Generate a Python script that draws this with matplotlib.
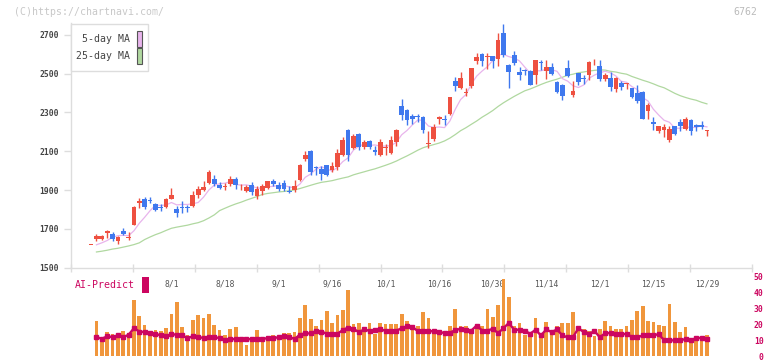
import matplotlib
matplotlib.use('Agg')
import matplotlib.pyplot as plt
import numpy as np
import pandas as pd
from matplotlib.patches import Rectangle

W, H = 772, 361

opens = [1617,1650,1649,1677,1676,1635,1687,1651,1721,1832,
         1855,1851,1826,1814,1813,1856,1802,1814,1814,1818,
         1876,1902,1936,1958,1927,1914,1931,1957,1908,1893,
         1924,1867,1893,1913,1947,1927,1936,1896,1902,1953,
         2062,2102,2016,2010,2030,2003,2019,2082,2210,2116,
         2190,2123,2150,2107,2079,2117,2090,2146,2334,2314,
         2283,2281,2276,2135,2162,2266,2266,2293,2462,2428,
         2402,2438,2562,2600,2583,2590,2574,2707,2545,2597,
         2506,2518,2511,2491,2557,2511,2534,2455,2440,2528,
         2388,2503,2475,2491,2562,2537,2472,2477,2422,2451,
         2446,2425,2400,2403,2306,2252,2202,2211,2160,2228,
         2248,2216,2263,2236,2235,2204]
highs = [1617,1672,1670,1695,1684,1663,1707,1684,1819,1861,
         1866,1864,1833,1830,1860,1912,1818,1841,1825,1893,
         1919,1948,2001,1979,1942,1936,1970,1967,1931,1924,
         1940,1919,1931,1948,1956,1941,1953,1919,1953,2036,
         2102,2104,2022,2022,2031,2043,2112,2171,2214,2188,
         2193,2159,2159,2128,2165,2139,2176,2212,2370,2317,
         2291,2291,2283,2205,2240,2279,2288,2379,2484,2507,
         2428,2531,2605,2608,2605,2590,2707,2755,2548,2614,
         2534,2523,2520,2572,2572,2572,2554,2460,2445,2572,
         2463,2503,2491,2566,2574,2571,2503,2510,2480,2460,
         2451,2426,2441,2408,2348,2274,2231,2242,2228,2231,
         2266,2275,2265,2240,2254,2210]
lows = [1617,1637,1644,1652,1640,1624,1670,1641,1719,1810,
        1804,1834,1790,1792,1808,1852,1762,1782,1786,1813,
        1858,1893,1931,1920,1907,1898,1919,1907,1902,1888,
        1876,1855,1876,1905,1919,1893,1893,1884,1888,1948,
        2048,1979,1976,1953,1972,1991,2003,2074,2048,2111,
        2108,2109,2112,2082,2074,2082,2086,2128,2262,2236,
        2241,2248,2193,2116,2155,2238,2234,2284,2412,2421,
        2384,2428,2550,2538,2524,2531,2541,2584,2428,2545,
        2468,2491,2440,2446,2520,2471,2491,2400,2365,2482,
        2378,2443,2446,2465,2545,2464,2463,2408,2403,2417,
        2420,2374,2348,2265,2267,2211,2194,2173,2146,2185,
        2202,2211,2181,2202,2216,2177]
closes = [1617,1664,1665,1688,1650,1657,1674,1655,1815,1843,
          1811,1842,1797,1810,1855,1875,1780,1810,1808,1875,
          1906,1918,1995,1932,1911,1921,1957,1925,1912,1918,
          1889,1906,1922,1947,1932,1907,1907,1888,1922,2030,
          2082,1991,2012,1985,1976,2022,2090,2159,2082,2176,
          2121,2146,2124,2094,2147,2122,2156,2210,2288,2259,
          2266,2278,2207,2138,2224,2276,2262,2378,2438,2476,
          2406,2528,2585,2567,2590,2567,2673,2596,2510,2554,
          2491,2513,2443,2571,2552,2532,2499,2404,2383,2486,
          2412,2455,2470,2557,2566,2474,2491,2429,2477,2429,
          2449,2378,2357,2268,2340,2238,2228,2223,2216,2190,
          2232,2268,2202,2224,2226,2207]

# volume (first session has no bar)
volume = [np.nan,
          22.2,10.5,14.9,14.1,13.6,16.1,14.5,35.3,25.3,19.7,
          15.5,16.6,16.1,17.8,26.6,34.1,18.4,13.6,22.8,25.9,
          24.3,26.8,19.5,16.6,13.4,17.2,18.4,10.3,7.2,10.9,
          16.6,12.0,12.4,13.4,12.8,14.7,14.7,15.5,24.1,32.2,
          23.4,19.1,22.8,28.4,21.1,25.9,29.1,41.6,20.3,21.1,
          17.8,21.1,14.1,21.1,20.5,20.3,
          20.3,26.6,22.4,18.6,19.3,28.0,24.0,16.1,16.6,15.1,
          19.3,29.7,19.3,19.3,16.6,19.3,19.3,29.7,24.9,32.2,
          49.0,37.4,19.3,21.1,13.6,13.0,24.0,12.2,21.8,16.6,
          19.3,21.1,21.1,28.0,18.6,17.2,16.1,12.4,17.2,22.4,
          19.3,17.2,17.2,19.3,22.8,28.6,31.5,22.4,21.4,19.9,
          19.3,33.0,21.4,14.9,18.4,10.5,10.5,9.7,13.0]

ai_predict = [np.nan,
              12.0,10.9,12.4,12.0,13.0,12.0,13.4,17.6,15.5,15.1,
              14.7,14.1,13.0,12.6,13.9,13.4,13.0,11.4,12.4,12.0,
              11.4,11.8,11.8,11.4,10.3,10.7,10.7,10.7,10.7,10.7,
              10.7,10.7,11.4,11.4,11.8,12.6,12.2,10.7,13.6,14.3,
              14.3,15.9,15.5,14.1,14.1,14.1,16.4,18.0,17.2,15.1,
              16.8,15.9,16.4,17.0,15.9,15.9,
              16.1,17.5,18.9,18.5,15.7,15.7,15.7,15.7,15.3,14.5,
              14.7,16.4,17.2,16.6,16.1,19.3,16.1,16.1,17.2,14.5,
              17.6,20.9,16.6,16.6,15.9,14.1,16.6,13.0,16.8,15.1,
              16.8,13.0,11.8,12.0,17.6,15.1,13.9,15.9,11.8,14.5,
              14.5,13.9,13.9,13.9,12.0,11.8,13.0,13.4,13.0,13.9,
              9.9,9.9,9.9,10.3,10.5,9.9,11.4,11.4,10.5]

ma5_head = [np.nan, 1618, 1628, 1640]
ma25_head = [np.nan, 1581, 1585, 1590, 1596, 1600, 1606, 1612, 1619, 1628,
             1645, 1658, 1670, 1680, 1692, 1703, 1709, 1714, 1719, 1726,
             1732, 1742, 1756, 1772]

date_labels = ['8/1', '8/18', '9/1', '9/16', '10/1', '10/16', '10/30',
               '11/14', '12/1', '12/15', '12/29']
date_label_pos = [15, 25, 35, 45, 55, 65, 75, 85, 95, 105, 115]
price_ticks = [1500, 1700, 1900, 2100, 2300, 2500, 2700]
vol_ticks = [0, 10, 20, 30, 40, 50]

RED = '#EE5040'
BLUE = '#3F78EE'
ORANGE = '#F0963C'
CRIMSON = '#CC0660'
PINK = '#E8B4EC'
GREEN = '#B0D8A0'
SPINE = '#DDDDDD'
MONO = 'DejaVu Sans Mono'

n = len(closes)
x = np.arange(n)
c = pd.Series(closes, dtype=float)
ma5 = c.rolling(5).mean().to_numpy()
ma5[:len(ma5_head)] = ma5_head
ma25 = c.rolling(25).mean().to_numpy()
ma25[:len(ma25_head)] = ma25_head

fig = plt.figure(figsize=(W / 100, H / 100), dpi=100)

def fx(px):
    return px / W

def fy(py):
    return 1 - py / H

# pixel geometry
X0, X1 = 71, 752
CX0, DX = 91.1, 5.355
xlim = ((X0 - CX0) / DX, (X1 - CX0) / DX)

# ---- main price panel
ax = fig.add_axes([fx(X0), fy(267.7), fx(X1) - fx(X0), fy(23.05) - fy(267.7)])
ax.set_xlim(*xlim)
ax.set_ylim(1500, 2760)
ax.set_facecolor('none')
for s in ['top', 'right']:
    ax.spines[s].set_visible(False)
for s in ['left', 'bottom']:
    ax.spines[s].set_color(SPINE)
    ax.spines[s].set_linewidth(1.0)

ax.plot(x, ma25, color=GREEN, lw=0.9, zorder=1)
ax.plot(x, ma5, color=PINK, lw=0.9, zorder=1)

o = np.array(opens, float); cl = np.array(closes, float)
hi = np.array(highs, float); lo = np.array(lows, float)
up = cl >= o
cols = np.where(up, RED, BLUE)
ax.vlines(x, lo, hi, colors=cols, lw=1.0, zorder=2)
bottom = np.minimum(o, cl)
height = np.maximum(np.abs(cl - o), 5.0)
ax.bar(x, height, bottom=bottom, width=0.88, color=cols, lw=0, zorder=3)

ax.set_yticks(price_ticks)
ax.set_yticklabels([str(t) for t in price_ticks], fontfamily=MONO,
                   fontsize=5.8, color='#444444', fontweight='bold')
ax.tick_params(axis='y', length=5, width=1, color=SPINE, pad=3.5)
ax.set_xticks(np.linspace(xlim[0], xlim[1], 12), minor=True)
ax.tick_params(axis='x', which='minor', direction='inout', length=6,
               width=1, color=SPINE)
ax.set_xticks(date_label_pos)
ax.set_xticklabels(date_labels, fontfamily=MONO, fontsize=5.8, color='#555555')
ax.tick_params(axis='x', which='major', length=0, pad=8.3)

# ---- volume / AI panel
axv = fig.add_axes([fx(X0), 0, fx(X1) - fx(X0), fy(270)])
axv.set_facecolor('none')
axv.set_xlim(*xlim)
v0 = 356.0; vs = 1.58
axv.set_ylim(-(H - v0) / vs, (v0 - 270) / vs)
for s in axv.spines.values():
    s.set_visible(False)
axv.bar(x, volume, width=0.69, color=ORANGE, lw=0, zorder=2)
axv.plot(x, ai_predict, color=CRIMSON, lw=1.7, marker='s', ms=2.4,
         mec=CRIMSON, zorder=3)
axv.set_xticks([])
axv.yaxis.tick_right()
axv.set_yticks(vol_ticks)
axv.set_yticklabels([str(t) for t in vol_ticks], fontfamily=MONO,
                    fontsize=5.8, color=CRIMSON, fontweight='bold')
axv.tick_params(axis='y', length=0, pad=8.3)
for lab in axv.get_yticklabels():
    lab.set_horizontalalignment('right')

# ---- annotations
fig.text(fx(14), fy(12), '(C)https://chartnavi.com/', fontfamily=MONO,
         fontsize=7.1, color='#C8C8C8', va='center', ha='left')
fig.text(fx(757), fy(12), '6762', fontfamily=MONO, fontsize=7.1,
         color='#BBBBBB', va='center', ha='right')

fig.add_artist(Rectangle((fx(70.7), fy(71)), fx(148.3) - fx(70.7), fy(24) - fy(71),
                         transform=fig.transFigure, facecolor='white',
                         edgecolor=SPINE, lw=1.0, zorder=10))
for label, col, yc in [('5-day MA', PINK, 39), ('25-day MA', GREEN, 56)]:
    fig.text(fx(129.5), fy(yc), label, fontfamily=MONO, fontsize=7.1,
             color='#444444', va='center', ha='right', zorder=11)
    fig.add_artist(Rectangle((fx(136.7), fy(yc + 7.5)), fx(5.6), fy(0) - fy(15),
                             transform=fig.transFigure, facecolor=col,
                             edgecolor='#555555', lw=0.8, zorder=11))

fig.text(fx(135), fy(285.5), 'AI-Predict', fontfamily=MONO, fontsize=7.1,
         color=CRIMSON, va='center', ha='right')
fig.add_artist(Rectangle((fx(142.3), fy(292.7)), fx(6.7), fy(0) - fy(16),
                         transform=fig.transFigure, facecolor=CRIMSON,
                         edgecolor='none', zorder=5))

fig.savefig('out.png', dpi=100)
